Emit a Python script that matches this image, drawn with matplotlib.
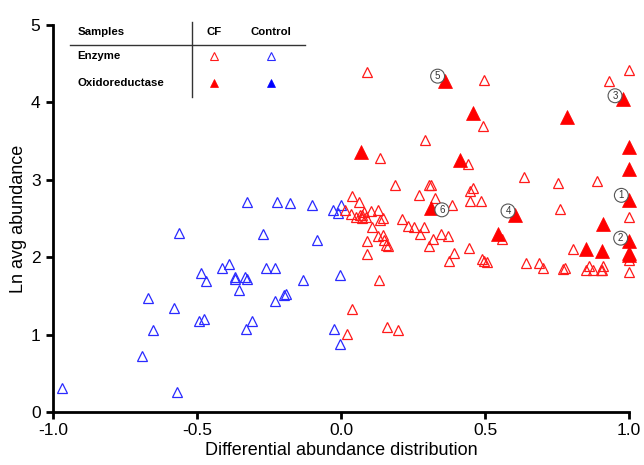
import matplotlib
matplotlib.use("Agg")
import matplotlib.pyplot as plt
from matplotlib.lines import Line2D

plt.rcParams['font.family'] = ['Liberation Sans', 'DejaVu Sans']

# Control enzymes (open blue)
ctrl_x = [-0.968, -0.571, -0.691, -0.654, -0.671, -0.579, -0.561, -0.493, -0.476, -0.486,
          -0.469, -0.414, -0.390, -0.369, -0.369, -0.334, -0.328, -0.354, -0.329, -0.309,
          -0.326, -0.223, -0.178, -0.101, -0.270, -0.260, -0.230, -0.230, -0.197, -0.190,
          -0.131, -0.082, -0.027, -0.001, -0.012, -0.002, -0.025, -0.003]
ctrl_y = [0.31, 0.26, 0.72, 1.06, 1.47, 1.34, 2.31, 1.18, 1.20, 1.79,
          1.69, 1.86, 1.91, 1.72, 1.75, 1.75, 1.72, 1.57, 1.07, 1.18,
          2.71, 2.71, 2.70, 2.67, 2.30, 1.86, 1.86, 1.43, 1.51, 1.52,
          1.71, 2.22, 2.61, 2.67, 2.57, 1.77, 1.07, 0.88]

# CF enzymes (open red)
cf_x = [0.090, 0.497, 1.0, 0.932, 0.492, 0.292, 0.137, 0.440, 0.634, 0.752,
        0.890, 0.188, 0.307, 0.314, 0.037, 0.063, 0.272, 0.326, 0.459, 0.447,
        0.447, 0.485, 0.385, 0.759, 1.0, 0.014, 0.034, 0.051, 0.066, 0.074,
        0.081, 0.086, 0.072, 0.103, 0.130, 0.135, 0.147, 0.107, 0.090, 0.130,
        0.145, 0.150, 0.156, 0.164, 0.089, 0.213, 0.232, 0.252, 0.289, 0.274,
        0.321, 0.307, 0.347, 0.370, 0.392, 0.374, 0.443, 0.491, 0.498, 0.508,
        0.560, 0.642, 0.686, 0.701, 0.772, 0.778, 0.806, 0.851, 0.860, 0.874,
        0.903, 0.910, 0.906, 1.0, 1.0, 0.132, 0.037, 0.020, 0.159, 0.198]
cf_y = [4.39, 4.29, 4.42, 4.28, 3.70, 3.51, 3.28, 3.21, 3.03, 2.96,
        2.98, 2.93, 2.93, 2.93, 2.79, 2.71, 2.80, 2.77, 2.89, 2.85,
        2.72, 2.72, 2.67, 2.62, 2.52, 2.61, 2.56, 2.52, 2.54, 2.55,
        2.58, 2.52, 2.51, 2.60, 2.61, 2.48, 2.50, 2.39, 2.21, 2.28,
        2.29, 2.22, 2.16, 2.14, 2.04, 2.49, 2.40, 2.39, 2.39, 2.30,
        2.24, 2.14, 2.30, 2.27, 2.06, 1.95, 2.12, 1.98, 1.95, 1.94,
        2.24, 1.93, 1.93, 1.86, 1.85, 1.86, 2.11, 1.83, 1.89, 1.83,
        1.83, 1.89, 1.83, 1.97, 1.81, 1.71, 1.33, 1.01, 1.10, 1.06]

# CF oxidoreductases (filled red)
ox_x = [0.362, 0.978, 0.460, 0.786, 0.068, 0.414, 1.0, 1.0, 1.0, 0.314,
        0.604, 0.544, 0.910, 1.0, 0.851, 0.906, 1.0, 1.0]
ox_y = [4.28, 4.05, 3.86, 3.81, 3.36, 3.26, 3.43, 3.14, 2.74, 2.63,
        2.54, 2.30, 2.43, 2.21, 2.11, 2.08, 2.06, 2.03]
ox_labels = ['5', '3', '', '', '', '', '', '', '1', '6',
             '4', '', '', '2', '', '', '', '']

xticks = [-1.0, -0.5, 0.0, 0.5, 1.0]
xticklabels = ['-1.0', '-0.5', '0.0', '0.5', '1.0']
yticks = [0, 1, 2, 3, 4, 5]

W, H = 644, 465
fig = plt.figure(figsize=(W / 100, H / 100), dpi=100)
ax = fig.add_axes([53 / W, 1 - 412 / H, (629 - 53) / W, (412 - 25) / H])

RED = '#ff1a1a'
BLUE = '#2a2aff'
ax.plot(ctrl_x, ctrl_y, linestyle='none', marker='^', markersize=7,
        markerfacecolor='none', markeredgecolor=BLUE, markeredgewidth=0.9, clip_on=False)
ax.plot(cf_x, cf_y, linestyle='none', marker='^', markersize=7,
        markerfacecolor='none', markeredgecolor=RED, markeredgewidth=0.9, clip_on=False)
ax.plot(ox_x, ox_y, linestyle='none', marker='^', markersize=9.5,
        markerfacecolor='red', markeredgecolor='red', markeredgewidth=0.5, clip_on=False, zorder=3)

offsets = {'1': (-5.5, 3.3), '2': (-6.0, 2.0), '3': (-5.5, 2.0),
           '4': (-5.0, 3.2), '5': (-5.5, 3.3), '6': (7.5, -1.0)}
for x, y, lb in zip(ox_x, ox_y, ox_labels):
    if lb:
        ax.annotate(lb, (x, y), xytext=offsets[lb], textcoords='offset points',
                    ha='center', va='center', fontsize=7, color='#333333',
                    bbox=dict(boxstyle='circle,pad=0.2', fc='white', ec='#555555', lw=0.8),
                    zorder=4, annotation_clip=False)

ax.set_xlim(-1.0, 1.0)
ax.set_ylim(0, 5)
ax.set_xticks(xticks)
ax.set_xticklabels(xticklabels)
ax.set_yticks(yticks)
for s in ['top', 'right']:
    ax.spines[s].set_visible(False)
for s in ['left', 'bottom']:
    ax.spines[s].set_linewidth(2.0)
ax.tick_params(direction='out', length=5, width=2.0, labelsize=12.5)
ax.tick_params(axis='x', pad=3)
ax.tick_params(axis='y', pad=4)
ax.set_xlabel('Differential abundance distribution', fontsize=13, labelpad=3)
ax.set_ylabel('Ln avg abundance', fontsize=13, labelpad=3)

# Legend table
def fx(px):
    return px / W

def fy(py):
    return 1 - py / H

fig.add_artist(Line2D([fx(70), fx(305)], [fy(44.7), fy(44.7)], color='#333333', lw=1.0))
fig.add_artist(Line2D([fx(191.7), fx(191.7)], [fy(21.7), fy(97.3)], color='#333333', lw=1.0))
fs = 8.2
fig.text(fx(77.5), fy(32), 'Samples', fontsize=fs, fontweight='bold', va='center', ha='left')
fig.text(fx(214), fy(32), 'CF', fontsize=fs, fontweight='bold', va='center', ha='center')
fig.text(fx(271), fy(32), 'Control', fontsize=fs, fontweight='bold', va='center', ha='center')
fig.text(fx(77.5), fy(56), 'Enzyme', fontsize=fs, fontweight='bold', va='center', ha='left')
fig.text(fx(77.5), fy(82.7), 'Oxidoreductase', fontsize=fs, fontweight='bold', va='center', ha='left')
fig.add_artist(Line2D([fx(214)], [fy(56)], marker='^', markersize=5.5, mfc='none', mec=RED, mew=0.8, ls='none'))
fig.add_artist(Line2D([fx(271.3)], [fy(56)], marker='^', markersize=5.5, mfc='none', mec=BLUE, mew=0.8, ls='none'))
fig.add_artist(Line2D([fx(214)], [fy(82.7)], marker='^', markersize=5.5, mfc='red', mec='red', mew=0.5, ls='none'))
fig.add_artist(Line2D([fx(271.3)], [fy(82.7)], marker='^', markersize=5.5, mfc='blue', mec='blue', mew=0.5, ls='none'))

fig.savefig('out.png', dpi=100)
